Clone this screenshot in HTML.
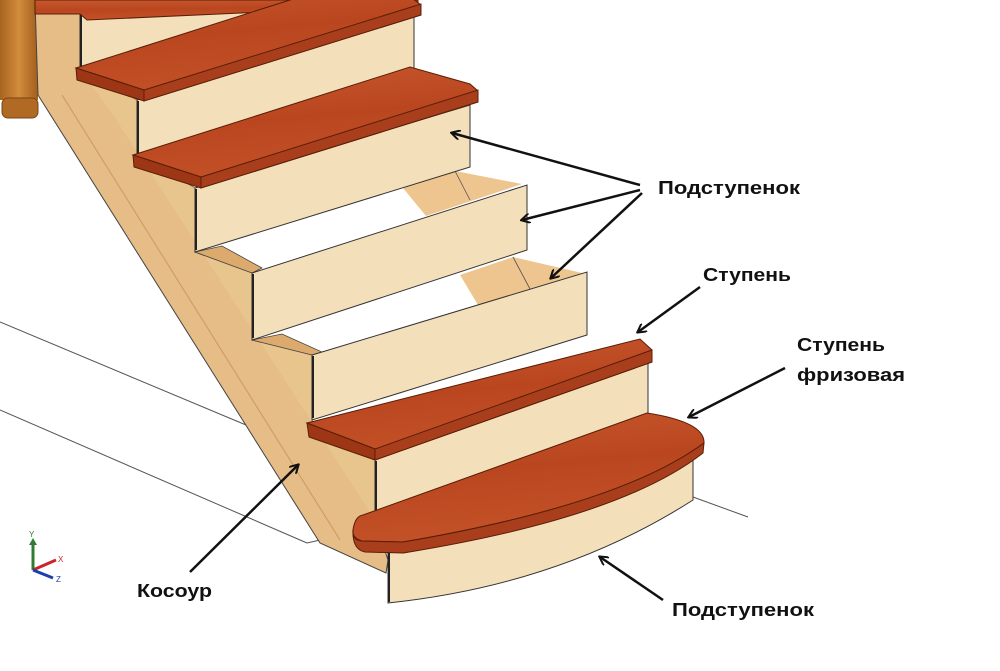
<!DOCTYPE html>
<html><head><meta charset="utf-8"><style>
html,body{margin:0;padding:0;background:#fff;}
svg{display:block;}
text{font-family:"Liberation Sans","DejaVu Sans",sans-serif;font-weight:bold;fill:#111;}
</style></head><body>
<svg width="1000" height="671" viewBox="0 0 1000 671" xmlns="http://www.w3.org/2000/svg">
<defs>
<linearGradient id="tr" x1="0" y1="0" x2="0.25" y2="1">
<stop offset="0" stop-color="#c9582e"/><stop offset="0.5" stop-color="#b9461f"/><stop offset="1" stop-color="#c45228"/>
</linearGradient>
<linearGradient id="post" x1="0" y1="0" x2="1" y2="0">
<stop offset="0" stop-color="#a8641f"/><stop offset="0.5" stop-color="#d28c3c"/><stop offset="1" stop-color="#a35e1c"/>
</linearGradient>
<marker id="ah" markerWidth="10" markerHeight="10" refX="8" refY="5" orient="auto" markerUnits="userSpaceOnUse" viewBox="0 0 10 10">
<path d="M0,0 L9,5 L0,10" fill="none" stroke="#111" stroke-width="2"/>
</marker>
</defs>

<g stroke="#555" stroke-width="1" fill="none">
<line x1="0" y1="322" x2="246" y2="425"/>
<line x1="0" y1="410" x2="307" y2="543"/>
<line x1="307" y1="543" x2="320" y2="540"/>
<line x1="693" y1="497" x2="748" y2="517"/>
</g>

<rect x="0" y="0" width="38" height="100" fill="url(#post)"/>
<rect x="2" y="98" width="36" height="20" rx="6" fill="#b06a24" stroke="#7a4512" stroke-width="1"/>

<polygon points="35,0 80,0 80,70 137,100 137,155 195,188 195,252 252,273 252,340 312,355 312,423 375,460 375,520 388,560 386,573 320,543 38,95" fill="#e6bd86" stroke="#444" stroke-width="1"/>
<line x1="62" y1="95" x2="340" y2="540" stroke="#c99a5e" stroke-width="1"/>
<polygon points="80,70 137,100 137,155 195,188 195,252 252,273 252,340 312,355 312,423 375,460 375,520 330,450 110,110" fill="#ebc994" opacity="0.6"/>

<polygon points="222,246 470,167 527,185 262,268" fill="#fff"/>
<polygon points="195,252 222,246 262,268 252,273" fill="#dcaa6c" stroke="#444" stroke-width="0.8"/>
<polygon points="403,188 455,171 522,184 426,216" fill="#eec58f"/>
<line x1="455" y1="171" x2="470" y2="200" stroke="#555" stroke-width="0.8"/>
<polygon points="282,334 527,250 587,272 322,352" fill="#fff"/>
<polygon points="252,340 282,334 322,352 312,355" fill="#dcaa6c" stroke="#444" stroke-width="0.8"/>
<polygon points="460,275 513,257 582,273 478,305" fill="#eec58f"/>
<line x1="513" y1="257" x2="530" y2="289" stroke="#555" stroke-width="0.8"/>

<g fill="#f4dfbb" stroke="#333" stroke-width="1">
<polygon points="80,13 355,-72 355,-9 80,76"/>
<polygon points="137,100 414,15 414,78 137,163"/>
<polygon points="195,188 470,105 470,167 195,252"/>
<polygon points="252,273 527,185 527,250 252,340"/>
<polygon points="312,355 587,272 587,335 312,420"/>
<polygon points="375,460 648,362 648,437 375,520"/>
</g>
<g stroke="#222" stroke-width="2">
<line x1="81" y1="14" x2="81" y2="72"/>
<line x1="138" y1="101" x2="138" y2="160"/>
<line x1="196" y1="189" x2="196" y2="250"/>
<line x1="253" y1="274" x2="253" y2="338"/>
<line x1="313" y1="356" x2="313" y2="418"/>
<line x1="376" y1="461" x2="376" y2="518"/>
</g>

<g stroke="#5a1e08" stroke-width="1">
<polygon points="35,0 418,0 418,5 87,20 80,14 35,14" fill="url(#tr)"/>
<polygon points="76,68 353,-20 412,-2 421,5 421,15 144,101 144,90" fill="url(#tr)"/>
<polygon points="76,68 144,90 144,101 77,80" fill="#9c3615"/>
<polygon points="144,90 421,4 421,15 144,101" fill="#a83e1c"/>
<polygon points="133,155 410,67 470,84 478,91 478,102 201,188 201,177" fill="url(#tr)"/>
<polygon points="133,155 201,177 201,188 134,167" fill="#9c3615"/>
<polygon points="201,177 478,90 478,102 201,188" fill="#a83e1c"/>
<polygon points="307,423 640,339 652,350 652,362 375,460 375,449" fill="url(#tr)"/>
<polygon points="307,423 375,449 375,460 309,437" fill="#9c3615"/>
<polygon points="375,449 652,350 652,362 375,460" fill="#a83e1c"/>
</g>

<path d="M388,548 L388,603 Q560,585 693,500 L693,450 Q620,515 403,553 Z" fill="#f4dfbb" stroke="#333" stroke-width="1"/>
<line x1="389" y1="552" x2="389" y2="602" stroke="#222" stroke-width="2"/>
<path d="M353,530 Q355,516 363,515 L647,413 Q705,422 704,443 Q620,505 403,542 L362,541 Q352,538 353,530 Z" fill="url(#tr)" stroke="#5a1e08" stroke-width="1"/>
<path d="M353,530 Q352,540 362,541 L403,542 Q620,505 704,443 L703,453 Q620,518 403,553 L365,552 Q354,550 353,535 Z" fill="#a83e1c" stroke="#5a1e08" stroke-width="1"/>

<g stroke="#111" stroke-width="2.5" fill="none" marker-end="url(#ah)">
<line x1="640" y1="185" x2="452" y2="133"/>
<line x1="640" y1="190" x2="522" y2="220"/>
<line x1="642" y1="193" x2="551" y2="278"/>
<line x1="700" y1="287" x2="638" y2="332"/>
<line x1="785" y1="368" x2="689" y2="417"/>
<line x1="190" y1="572" x2="298" y2="465"/>
<line x1="663" y1="600" x2="600" y2="557"/>
</g>

<text x="658" y="194" font-size="18" textLength="142" lengthAdjust="spacingAndGlyphs">Подступенок</text>
<text x="703" y="281" font-size="18" textLength="88" lengthAdjust="spacingAndGlyphs">Ступень</text>
<text x="797" y="351" font-size="18" textLength="88" lengthAdjust="spacingAndGlyphs">Ступень</text>
<text x="797" y="381" font-size="18" textLength="108" lengthAdjust="spacingAndGlyphs">фризовая</text>
<text x="137" y="597" font-size="18" textLength="75" lengthAdjust="spacingAndGlyphs">Косоур</text>
<text x="672" y="616" font-size="18" textLength="142" lengthAdjust="spacingAndGlyphs">Подступенок</text>

<g>
<line x1="33" y1="570" x2="33" y2="543" stroke="#2e7d32" stroke-width="3"/>
<polygon points="29,545 37,545 33,538" fill="#2e7d32"/>
<text x="29" y="537" font-size="8" style="fill:#2e7d32;font-weight:normal">Y</text>
<line x1="33" y1="570" x2="56" y2="560" stroke="#c62828" stroke-width="3"/>
<text x="58" y="562" font-size="8" style="fill:#c62828;font-weight:normal">X</text>
<line x1="33" y1="570" x2="53" y2="578" stroke="#1a3fb0" stroke-width="3"/>
<text x="56" y="582" font-size="8" style="fill:#1a3fb0;font-weight:normal">Z</text>
</g>
</svg>
</body></html>
